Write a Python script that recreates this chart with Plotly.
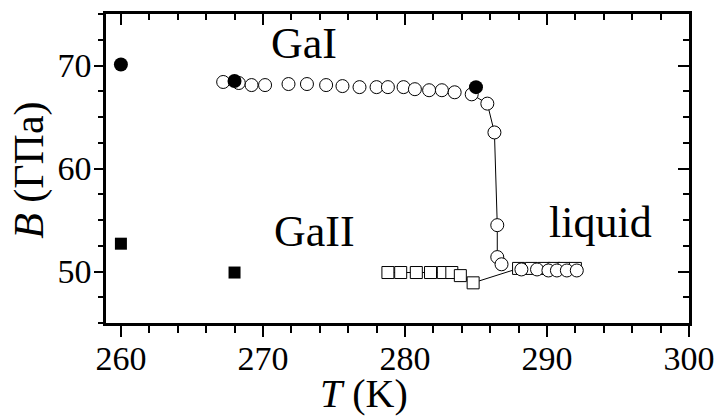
import plotly.graph_objects as go

# --- data ---
T_filled_circ = [260.0, 268.0, 285.0]
B_filled_circ = [70.1, 68.5, 67.9]

T_filled_sq = [260.0, 268.0]
B_filled_sq = [52.7, 49.9]

T_open_circ = [267.2, 268.3, 269.2, 270.15, 271.8, 273.1, 274.45, 275.6, 276.8, 278.0,
               278.8, 279.9, 280.7, 281.7, 282.6, 283.5, 284.7, 285.8, 286.3, 286.5,
               286.5, 286.8]
B_open_circ = [68.4, 68.3, 68.1, 68.1, 68.2, 68.2, 68.1, 68.0, 67.9, 67.9,
               67.9, 67.9, 67.7, 67.6, 67.6, 67.4, 67.2, 66.3, 63.5, 54.5,
               51.4, 50.7]

T_liq_circ = [288.2, 289.3, 290.1, 290.7, 291.4, 292.1]
B_liq_circ = [50.2, 50.2, 50.1, 50.1, 50.1, 50.1]

T_open_sq = [278.8, 279.7, 280.8, 281.8, 282.7, 283.3, 283.9, 284.8,
             288.0, 288.9, 289.8, 290.5, 291.2, 292.0]
B_open_sq = [49.9, 49.9, 49.9, 49.9, 49.9, 49.9, 49.6, 48.9,
             50.3, 50.3, 50.3, 50.3, 50.3, 50.3]

x_ticks = [260, 270, 280, 290, 300]
y_ticks = [50, 60, 70]

FONT = "Liberation Serif"
trans_start = 16  # index in open-circle arrays where connecting line is visible

fig = go.Figure()
fig.add_trace(go.Scatter(x=T_open_sq, y=B_open_sq, mode="lines+markers",
                         line=dict(color="black", width=1),
                         marker=dict(symbol="square", size=12, color="white",
                                     line=dict(color="black", width=1))))
fig.add_trace(go.Scatter(x=T_open_circ[trans_start:], y=B_open_circ[trans_start:], mode="lines",
                         line=dict(color="black", width=1)))
fig.add_trace(go.Scatter(x=T_open_circ, y=B_open_circ, mode="markers",
                         marker=dict(symbol="circle", size=13, color="white",
                                     line=dict(color="black", width=1))))
fig.add_trace(go.Scatter(x=T_liq_circ, y=B_liq_circ, mode="markers",
                         marker=dict(symbol="circle", size=13, color="white",
                                     line=dict(color="black", width=1))))
fig.add_trace(go.Scatter(x=T_filled_circ, y=B_filled_circ, mode="markers",
                         marker=dict(symbol="circle", size=14, color="black")))
fig.add_trace(go.Scatter(x=T_filled_sq, y=B_filled_sq, mode="markers",
                         marker=dict(symbol="square", size=12, color="black")))
# invisible trace for mirrored axes
fig.add_trace(go.Scatter(x=[280], y=[60], xaxis="x2", yaxis="y2", mode="markers",
                         marker=dict(opacity=0), hoverinfo="skip"))

xr = [258.95, 300]
yr = [45, 75]
common = dict(showgrid=False, zeroline=False, showline=True, linecolor="black",
              linewidth=2.5, tickcolor="black", tickwidth=2, automargin=False)

fig.update_layout(
    width=717, height=416,
    margin=dict(l=106, r=28, t=14, b=93),
    paper_bgcolor="white", plot_bgcolor="white",
    showlegend=False,
    font=dict(family=FONT, size=34, color="black"),
    xaxis=dict(range=xr, tickvals=x_ticks, ticks="outside", ticklen=11,
               ticklabelstandoff=-8,
               minor=dict(dtick=2, ticks="outside", ticklen=7, tickwidth=2, tickcolor="black"),
               tickfont=dict(family=FONT, size=34), **common),
    yaxis=dict(range=yr, tickvals=y_ticks, ticks="outside", ticklen=9,
               ticklabelstandoff=-4,
               minor=dict(dtick=2.5, ticks="outside", ticklen=5, tickwidth=2, tickcolor="black"),
               tickfont=dict(family=FONT, size=34), **common),
    xaxis2=dict(range=xr, overlaying="x", side="top", tickvals=x_ticks, ticks="inside",
                ticklen=11, showticklabels=False, anchor="y",
                minor=dict(dtick=2, ticks="inside", ticklen=6, tickwidth=2, tickcolor="black"),
                **common),
    yaxis2=dict(range=yr, overlaying="y", side="right", tickvals=y_ticks, ticks="inside",
                ticklen=11, showticklabels=False, anchor="x",
                minor=dict(dtick=2.5, ticks="inside", ticklen=6, tickwidth=2, tickcolor="black"),
                **common),
    annotations=[
        dict(x=272.9, y=72.1, xref="x", yref="y", text="GaI", showarrow=False,
             font=dict(family=FONT, size=44)),
        dict(x=273.6, y=53.9, xref="x", yref="y", text="GaII", showarrow=False,
             font=dict(family=FONT, size=44)),
        dict(x=293.8, y=54.8, xref="x", yref="y", text="liquid", showarrow=False,
             font=dict(family=FONT, size=44)),
        dict(x=0.4428, y=0, xref="paper", yref="paper", yshift=-70, text="<i>T</i> (K)",
             xanchor="center", yanchor="middle",
             showarrow=False, font=dict(family=FONT, size=40)),
        dict(x=-0.1304, y=0.4956, xref="paper", yref="paper", text="<i>B</i> (ГПа)",
             xanchor="center", yanchor="middle",
             textangle=-90, showarrow=False, font=dict(family=FONT, size=42)),
    ],
)

fig.write_html("out.html", config={"displayModeBar": False},
               post_script="document.body.style.margin='0';")
